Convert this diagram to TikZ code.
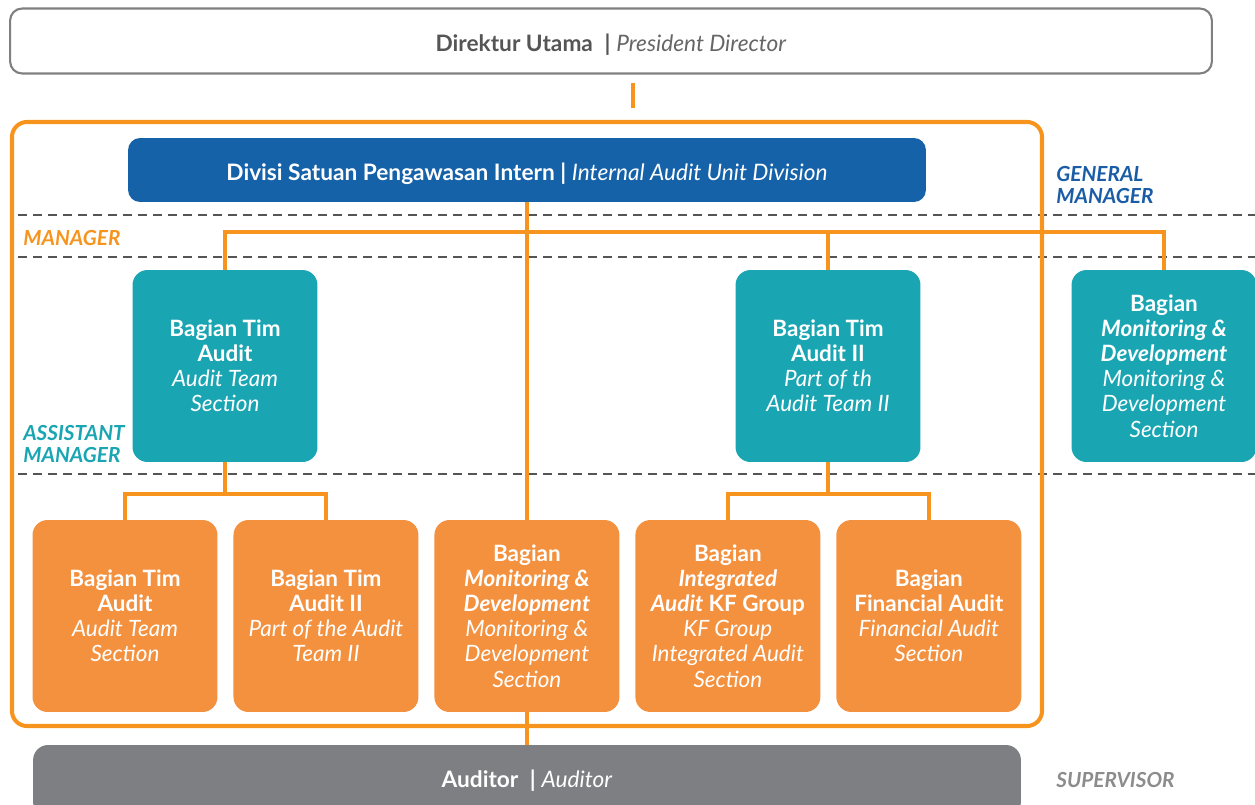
\documentclass[tikz,border=0pt]{standalone}
\usepackage{fontspec}
\setmainfont{Lato}
\usepackage{xcolor}
\usepackage{tikz}
\usetikzlibrary{positioning, calc}

\definecolor{orgline}{HTML}{F7941D}
\definecolor{orgbox}{HTML}{F4913F}
\definecolor{tealbox}{HTML}{1AA5B3}
\definecolor{bluebox}{HTML}{1562A9}
\definecolor{bluetext}{HTML}{1A5DA6}
\definecolor{graybox}{HTML}{7E7F83}
\definecolor{graytext}{HTML}{8C8C8C}
\definecolor{dashgray}{HTML}{555555}
\definecolor{toptext}{HTML}{555555}

\begin{document}
\begin{tikzpicture}[
    x=0.02cm, y=-0.02cm,
    node distance=0.32cm,
    headbox/.style={rectangle, draw=black!50, line width=1.2pt, fill=white, rounded corners=0.24cm, minimum width=24.04cm, minimum height=1.3cm, text height=13pt, text depth=0.6pt, font=\fontsize{12.9}{14}\selectfont},
    divbox/.style={rectangle, fill=bluebox, rounded corners=0.24cm, minimum width=15.96cm, minimum height=1.28cm, text height=13pt, text depth=0.6pt, text=white, font=\fontsize{12.9}{14}\selectfont},
    secbox/.style={rectangle, fill=tealbox, rounded corners=0.3cm, minimum width=3.7cm, minimum height=3.84cm, align=center, text=white, font=\fontsize{12.8}{14.3}\selectfont},
    subbox/.style={rectangle, fill=orgbox, rounded corners=0.3cm, minimum width=3.7cm, minimum height=3.84cm, outer sep=0pt, align=center, text=white, font=\fontsize{12.8}{14.3}\selectfont},
    audbox/.style={rectangle, fill=graybox, rounded corners=0.3cm, minimum width=19.76cm, minimum height=1.44cm, text=white, font=\fontsize{12.9}{14}\selectfont},
    level/.style={font=\fontsize{11.8}{12.5}\selectfont\bfseries\itshape, align=left, inner sep=0pt},
    conn/.style={draw=orgline, line width=2.3pt},
    sep/.style={draw=dashgray, line width=1.6pt, dash pattern=on 0.18cm off 0.12cm}
]
\clip (0,0) rectangle (1255,805);

% Level lines
\draw[sep] (18,215) -- (1255,215);
\draw[sep] (18,257) -- (1255,257);
\draw[sep] (18,474) -- (1255,474);

% Frame
\draw[draw=orgline, line width=2.3pt, rounded corners=0.3cm] (12,122) rectangle (1042,726);

% President Director
\node[headbox] (dir) at (611,41) {\textcolor{toptext}{\textbf{Direktur Utama} \ \textbf{|}} \textcolor{toptext!90}{\textit{President Director}}};
\coordinate (dirlink) at (633,83);
\coordinate (framelink) at (633,108);

% General Manager
\node[divbox] (spi) at (527,170) {\textbf{Divisi Satuan Pengawasan Intern |} \textit{Internal Audit Unit Division}};

% Manager - Assistant Manager
\node[secbox] (tim1) at (225,366) {\textbf{Bagian Tim}\\\textbf{Audit}\\\textit{Audit Team}\\\textit{Section}};
\node[secbox] (tim2) at (828,366) {\textbf{Bagian Tim}\\\textbf{Audit II}\\\textit{Part of th}\\\textit{Audit Team II}};
\node[secbox] (mon1) at (1164,366) {\textbf{Bagian}\\\textbf{\textit{Monitoring \&}}\\\textbf{\textit{Development}}\\\textit{Monitoring \&}\\\textit{Development}\\\textit{Section}};

% Sections
\node[subbox] (sec1) at (125,616) {\textbf{Bagian Tim}\\\textbf{Audit}\\\textit{Audit Team}\\\textit{Section}};
\node[subbox, right=of sec1] (sec2) {\textbf{Bagian Tim}\\\textbf{Audit II}\\\textit{Part of the Audit}\\\textit{Team II}};
\node[subbox, right=of sec2] (sec3) {\textbf{Bagian}\\\textbf{\textit{Monitoring \&}}\\\textbf{\textit{Development}}\\\textit{Monitoring \&}\\\textit{Development}\\\textit{Section}};
\node[subbox, right=of sec3] (sec4) {\textbf{Bagian}\\\textbf{\textit{Integrated}}\\\textbf{\textit{Audit} KF Group}\\\textit{KF Group}\\\textit{Integrated Audit}\\\textit{Section}};
\node[subbox, right=of sec4] (sec5) {\textbf{Bagian}\\\textbf{Financial Audit}\\\textit{Financial Audit}\\\textit{Section}};

% Supervisor
\node[audbox] (aud) at (527,781) {\textbf{Auditor} \ \textbf{|} \textit{Auditor}};

% Level labels
\node[level, text=bluetext, anchor=north west] (lgm) at (1056,166) {GENERAL\\MANAGER};
\node[level, text=orgline, anchor=west] (lm) at (23,238) {MANAGER};
\node[level, text=tealbox, anchor=west] (lam) at (23,444) {ASSISTANT\\MANAGER};
\node[level, text=graytext, anchor=west] (ls) at (1056,780) {SUPERVISOR};

% Connectors
\coordinate (bus) at (0,232);
\draw[conn] (dirlink) -- (framelink);
\draw[conn] (spi.south) -- (spi.south |- sec3.north);
\draw[conn] (sec3.south) -- (sec3.south |- aud.north);
\draw[conn] (tim1.north) -- (tim1.north |- bus) -- (mon1.north |- bus) -- (mon1.north);
\draw[conn] (tim2.north) -- (tim2.north |- bus);
\draw[conn] (tim1.south) -- ++(0,32) -| (sec1.north);
\draw[conn] (tim1.south) ++(0,32) -| (sec2.north);
\draw[conn] (tim2.south) -- ++(0,32) -| (sec4.north);
\draw[conn] (tim2.south) ++(0,32) -| (sec5.north);

\end{tikzpicture}
\end{document}
